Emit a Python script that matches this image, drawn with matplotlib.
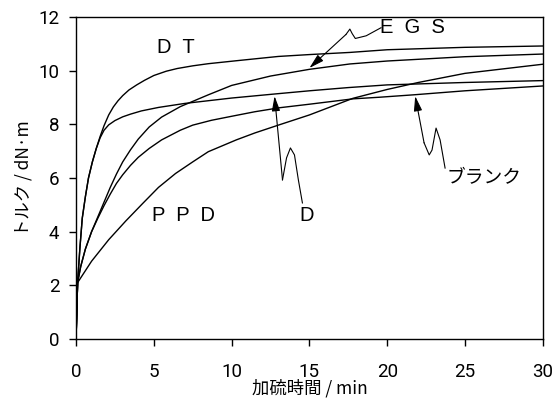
import matplotlib
matplotlib.use("Agg")
import matplotlib.pyplot as plt

# ---- data ----
t_dt = [0, 0.1, 0.25, 0.4, 0.6, 0.8, 1.05, 1.3, 1.55, 1.8, 2.1, 2.4, 2.7, 3.0, 3.4, 3.9, 4.4, 5.0, 5.8, 6.5, 7.5, 8.5, 10.3, 13.0, 15.0, 17.6, 20.0, 25.0, 30.0]
y_dt = [0, 2.1, 3.4, 4.5, 5.3, 6.0, 6.6, 7.1, 7.55, 7.95, 8.35, 8.65, 8.88, 9.07, 9.28, 9.47, 9.64, 9.82, 9.98, 10.08, 10.18, 10.26, 10.37, 10.53, 10.6, 10.68, 10.78, 10.87, 10.92]

t_d = [0, 0.1, 0.25, 0.4, 0.6, 0.8, 1.05, 1.3, 1.55, 1.8, 2.1, 2.5, 3.0, 3.5, 4.2, 5.3, 7.0, 10.0, 12.75, 15.0, 17.5, 20.0, 25.0, 30.0]
y_d = [0, 2.1, 3.4, 4.5, 5.3, 6.0, 6.6, 7.1, 7.5, 7.78, 7.98, 8.14, 8.28, 8.38, 8.5, 8.63, 8.78, 8.98, 9.13, 9.25, 9.37, 9.47, 9.56, 9.63]

t_egs = [0, 0.1, 0.3, 0.6, 1.0, 1.4, 1.8, 2.2, 2.6, 3.0, 3.5, 4.0, 4.7, 5.5, 6.7, 8.5, 10.0, 12.5, 15.0, 17.6, 20.0, 25.0, 30.0]
y_egs = [0, 2.1, 2.7, 3.35, 4.0, 4.55, 5.1, 5.65, 6.15, 6.6, 7.05, 7.45, 7.9, 8.27, 8.66, 9.1, 9.45, 9.8, 10.05, 10.25, 10.36, 10.52, 10.62]

t_blank = [0, 0.1, 0.3, 0.6, 1.0, 1.4, 1.8, 2.2, 2.6, 3.0, 3.5, 4.0, 4.7, 5.5, 6.7, 7.5, 8.7, 10.0, 11.5, 13.1, 15.0, 17.8, 19.5, 21.7, 25.0, 30.0]
y_blank = [0, 2.1, 2.7, 3.35, 4.0, 4.5, 4.97, 5.4, 5.8, 6.12, 6.47, 6.77, 7.1, 7.42, 7.78, 7.97, 8.15, 8.3, 8.47, 8.62, 8.75, 8.95, 9.01, 9.1, 9.25, 9.43]

t_ppd = [0, 0.1, 1.0, 2.1, 3.2, 4.3, 5.3, 6.4, 7.5, 8.5, 10.3, 11.5, 13.0, 15.0, 17.8, 20.0, 22.0, 25.0, 30.0]
y_ppd = [0, 2.1, 2.9, 3.7, 4.4, 5.06, 5.65, 6.17, 6.6, 6.98, 7.42, 7.68, 7.97, 8.35, 8.97, 9.3, 9.56, 9.9, 10.24]

x_ticks = [0, 5, 10, 15, 20, 25, 30]
y_ticks = [0, 2, 4, 6, 8, 10, 12]

xlabel = "加硫時間 / min"
ylabel = "トルク / dN·m"

# leader lines (wavy callouts) in data coordinates
egs_leader_x = [19.6, 18.65, 17.95, 17.75, 17.6, 17.35]
egs_leader_y = [11.6, 11.3, 11.2, 11.38, 11.55, 11.35]
egs_tip = (15.0, 10.1)

d_leader_x = [14.55, 14.29, 14.04, 13.78, 13.53, 13.27]
d_leader_y = [5.07, 5.93, 6.86, 7.12, 6.75, 5.93]
d_tip = (12.76, 9.05)

bl_leader_x = [23.72, 23.4, 23.14, 22.88, 22.7, 22.37]
bl_leader_y = [6.37, 7.42, 7.86, 7.04, 6.86, 7.31]
bl_tip = (21.8, 9.05)

# ---- figure ----
fig = plt.figure(figsize=(5.55, 4.05), dpi=100)
ax = fig.add_axes([0.137, 0.163, 0.841, 0.795])

for t, y in [(t_dt, y_dt), (t_d, y_d), (t_egs, y_egs), (t_blank, y_blank), (t_ppd, y_ppd)]:
    ax.plot(t, y, color="black", lw=1.0)

ax.set_xlim(0, 30)
ax.set_ylim(0, 12)
ax.set_xticks(x_ticks)
ax.set_yticks(y_ticks)
tickfont = dict(family=["Roboto", "DejaVu Sans"], size=13.5)
ax.set_xticklabels([str(v) for v in x_ticks], **tickfont)
ax.set_yticklabels([str(v) for v in y_ticks], **tickfont)
ax.tick_params(direction="out", length=5, width=1, pad=7, color="black")
ax.tick_params(axis="x", pad=12)
for s in ax.spines.values():
    s.set_linewidth(1.0)

cjk = ["Noto Sans CJK JP", "DejaVu Sans"]
ax.set_xlabel(xlabel, family=cjk, fontsize=12.5, labelpad=-1)
ax.set_ylabel(ylabel, family=cjk, fontsize=12.5, labelpad=4)

lab = dict(family=["Liberation Sans", "DejaVu Sans"], fontsize=14.5, ha="center", va="center")
ax.text(6.4, 10.88, "D  T", **lab)
ax.text(21.6, 11.62, "E  G  S", **lab)
ax.text(6.9, 4.62, "P  P  D", **lab)
ax.text(14.8, 4.62, "D", **lab)
ax.text(26.2, 6.0, "ブランク", family=cjk, fontsize=13.5, ha="center", va="center")

arrow = dict(arrowstyle="-|>,head_length=0.9,head_width=0.25", color="black", lw=0.8,
             shrinkA=0, shrinkB=0)
for lx, ly, tip in [(egs_leader_x, egs_leader_y, egs_tip),
                    (d_leader_x, d_leader_y, d_tip),
                    (bl_leader_x, bl_leader_y, bl_tip)]:
    ax.plot(lx, ly, color="black", lw=0.8)
    ax.annotate("", xy=tip, xytext=(lx[-1], ly[-1]), arrowprops=arrow)

fig.savefig("out.png", dpi=100)
